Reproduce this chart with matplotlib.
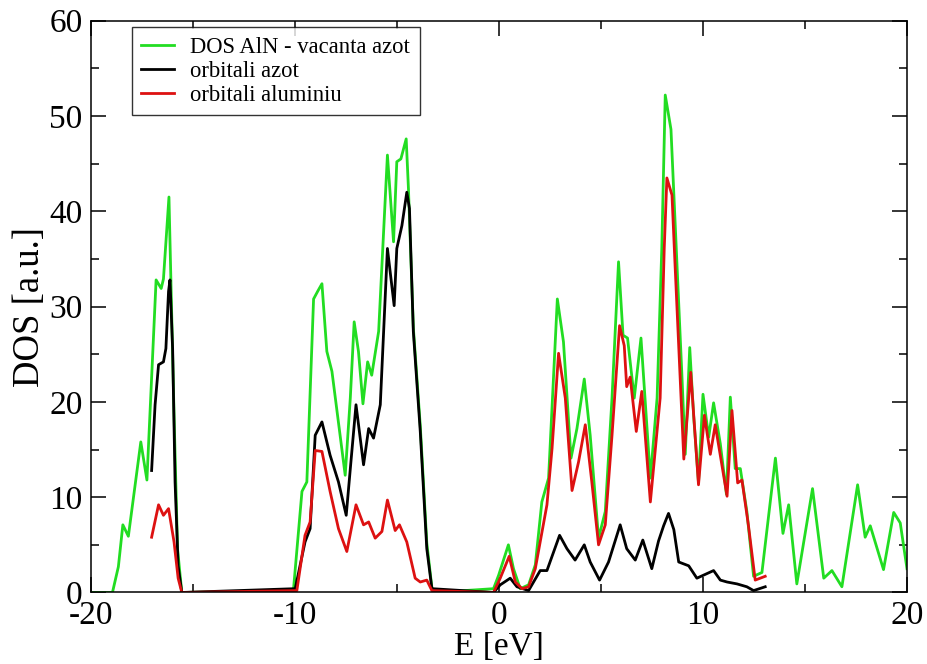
"""
plot.py - DOS AlN cu vacanta de azot: DOS total + orbitali azot / aluminiu
"""

import matplotlib
matplotlib.use("Agg")
import matplotlib.pyplot as plt
from matplotlib.ticker import MultipleLocator

plt.rcParams["font.family"] = ["Liberation Serif", "DejaVu Serif"]
plt.rcParams["axes.unicode_minus"] = False

# --- date (E [eV], DOS [a.u.]) ---
E_total = [-20.0, -18.95, -18.66, -18.44, -18.17, -17.56, -17.26, -16.81, -16.56, -16.45,
           -16.18, -15.93, -15.76, -15.55,
           -10.08, -9.66, -9.42, -9.09, -8.89, -8.68, -8.44, -8.19, -7.54, -7.29,
           -7.10, -6.89, -6.67, -6.44, -6.24, -5.90, -5.74, -5.47, -5.17, -5.01,
           -4.81, -4.55, -4.44, -4.20, -3.86, -3.54, -3.29, -3.10,
           -0.27, -0.02, 0.46, 0.71, 1.04, 1.45, 1.78, 2.10, 2.43, 2.86, 3.16,
           3.53, 3.82, 4.18, 4.47, 4.88, 5.21, 5.54, 5.86, 6.08, 6.30, 6.63,
           6.96, 7.42, 7.75, 7.98, 8.15, 8.43, 8.96, 9.13, 9.35, 9.54, 9.78,
           10.00, 10.28, 10.52, 10.85, 11.15, 11.34, 11.58, 11.83, 12.15, 12.48,
           12.89, 13.55, 13.92, 14.20, 14.60, 15.37, 15.92, 16.32, 16.81, 17.58,
           17.95, 18.20, 18.85, 19.35, 19.67, 20.0]
DOS_total = [0.0, 0.0, 2.7, 7.1, 5.9, 15.8, 11.8, 32.8, 31.9, 32.9,
             41.5, 18.6, 4.6, 0.0,
             0.2, 10.6, 11.6, 30.8, 31.6, 32.4, 25.3, 23.2, 12.3, 20.4,
             28.4, 25.3, 19.8, 24.2, 22.8, 27.4, 34.3, 45.9, 36.8, 45.2,
             45.5, 47.6, 42.4, 27.8, 17.5, 5.2, 0.5, 0.0,
             0.4, 1.8, 5.0, 2.5, 0.4, 0.8, 2.9, 9.5, 12.0, 30.8, 26.3,
             14.1, 17.2, 22.4, 16.5, 5.7, 8.5, 20.4, 34.7, 27.0, 26.7, 20.4,
             26.7, 12.0, 20.4, 36.1, 52.2, 48.6, 23.1, 14.5, 25.7, 18.6, 11.5,
             20.8, 16.3, 19.9, 15.6, 10.3, 20.5, 13.0, 13.0, 8.5, 1.7,
             2.1, 14.1, 6.2, 9.2, 0.9, 10.9, 1.5, 2.3, 0.6, 11.3,
             5.8, 7.0, 2.4, 8.4, 7.3, 2.5]

E_azot = [-17.03, -16.86, -16.69, -16.45, -16.33, -16.20, -16.13, -16.00, -15.88,
          -15.73, -15.55,
          -9.99, -9.51, -9.26, -9.01, -8.68, -8.28, -7.87, -7.49, -7.26, -7.01,
          -6.64, -6.39, -6.15, -5.82, -5.47, -5.14, -5.01, -4.76, -4.52, -4.39,
          -4.20, -3.86, -3.54, -3.29,
          -0.27, 0.06, 0.55, 0.88, 1.45, 2.02, 2.35, 2.97, 3.33, 3.73, 4.18,
          4.47, 4.93, 5.37, 5.94, 6.26, 6.68, 7.05, 7.49, 7.82, 8.07, 8.31,
          8.57, 8.81, 9.30, 9.70, 10.11, 10.52, 10.85, 11.18, 11.67, 12.15,
          12.48, 13.05]
DOS_azot = [12.8, 19.7, 23.9, 24.2, 25.6, 31.6, 32.8, 25.6, 11.6,
            2.8, 0.0,
            0.4, 5.3, 6.7, 16.5, 17.9, 14.4, 11.6, 8.1, 13.7, 19.7,
            13.4, 17.2, 16.2, 19.7, 36.1, 30.1, 36.1, 38.5, 42.0, 40.3,
            27.4, 16.9, 4.6, 0.4,
            0.0, 0.8, 1.5, 0.6, 0.2, 2.3, 2.3, 6.0, 4.6, 3.4, 5.0,
            3.2, 1.3, 3.2, 7.1, 4.6, 3.4, 5.5, 2.5, 5.4, 7.0, 8.3,
            6.6, 3.2, 2.8, 1.5, 1.9, 2.3, 1.3, 1.1, 0.9, 0.6,
            0.2, 0.6]

E_al = [-17.03, -16.69, -16.45, -16.20, -15.93, -15.73, -15.55,
        -9.91, -9.51, -9.26, -9.01, -8.68, -8.28, -7.87, -7.46, -7.01, -6.64,
        -6.39, -6.07, -5.74, -5.47, -5.09, -4.88, -4.52, -4.11, -3.86, -3.54,
        -3.29,
        -0.27, 0.06, 0.50, 0.80, 1.13, 1.45, 1.78, 2.35, 2.60, 2.92, 3.25,
        3.58, 3.90, 4.23, 4.55, 4.88, 5.21, 5.54, 5.91, 6.14, 6.26, 6.43,
        6.73, 7.00, 7.42, 7.90, 8.10, 8.23, 8.48, 8.63, 9.06, 9.40, 9.78,
        10.07, 10.36, 10.60, 11.18, 11.42, 11.70, 11.91, 12.23, 12.56, 13.05]
DOS_al = [5.8, 9.2, 8.1, 8.8, 5.3, 1.5, 0.0,
          0.2, 6.0, 7.4, 14.9, 14.8, 10.6, 6.7, 4.3, 9.2, 7.1,
          7.4, 5.7, 6.4, 9.7, 6.5, 7.1, 5.3, 1.5, 1.1, 1.3,
          0.2,
          0.0, 1.5, 3.8, 1.1, 0.4, 0.6, 2.5, 9.2, 15.1, 25.1, 20.4,
          10.7, 13.7, 17.6, 11.6, 5.0, 7.1, 16.5, 28.0, 25.9, 21.6, 22.6,
          16.9, 21.1, 9.5, 20.4, 36.1, 43.5, 41.7, 34.4, 14.0, 23.1, 11.3,
          18.6, 14.5, 17.6, 10.1, 19.1, 11.5, 11.8, 7.0, 1.3, 1.7]

SERIES = [("DOS AlN - vacanta azot", E_total, DOS_total, "#22dd22"),
          ("orbitali azot", E_azot, DOS_azot, "black"),
          ("orbitali aluminiu", E_al, DOS_al, "#dd1111")]


def main() -> None:
    fig = plt.figure(figsize=(9.27, 6.64), dpi=100)
    ax = fig.add_axes([0.0982, 0.1077, 0.8802, 0.8611])

    for label, x, y, color in SERIES:
        ax.plot(x, y, color=color, lw=2.0, label=label)

    ax.set_xlim(-20, 20)
    ax.set_ylim(0, 60)
    ax.xaxis.set_major_locator(MultipleLocator(10))
    ax.xaxis.set_minor_locator(MultipleLocator(5))
    ax.yaxis.set_major_locator(MultipleLocator(10))
    ax.yaxis.set_minor_locator(MultipleLocator(5))
    ax.tick_params(which="both", direction="in", top=True, right=True,
                   width=1.1, labelsize=24)
    ax.tick_params(which="major", length=11)
    ax.tick_params(which="minor", length=6)
    ax.tick_params(axis="x", pad=6)
    ax.tick_params(axis="y", pad=6)
    for s in ax.spines.values():
        s.set_linewidth(1.1)

    ax.set_xlabel("E [eV]", fontsize=24, labelpad=0)
    ax.set_ylabel("DOS [a.u.]", fontsize=26.5, labelpad=2)

    leg = ax.legend(loc="upper left", bbox_to_anchor=(0.0497, 0.989),
                    borderaxespad=0, fontsize=16.3, frameon=True, fancybox=False,
                    handlelength=1.44, handletextpad=0.74, labelspacing=0.14,
                    borderpad=0.42)
    leg.get_frame().set_edgecolor("black")
    leg.get_frame().set_linewidth(1.0)

    fig.savefig("out.png", dpi=100)


if __name__ == "__main__":
    main()
